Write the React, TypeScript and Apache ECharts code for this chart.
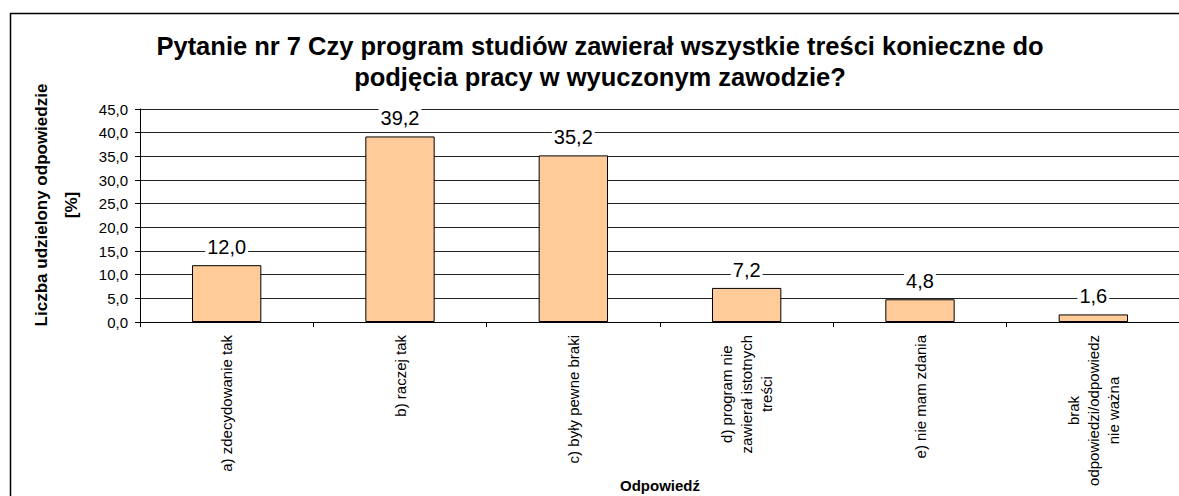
import React, { useEffect, useRef } from "react";
import * as echarts from "echarts";

const categories: string[][] = [
  ["a) zdecydowanie tak"],
  ["b) raczej tak"],
  ["c) były pewne braki"],
  ["d) program nie", "zawierał istotnych", "treści"],
  ["e) nie mam zdania"],
  ["brak", "odpowiedzi/odpowiedz", "nie ważna"],
];
const values: number[] = [12.0, 39.2, 35.2, 7.2, 4.8, 1.6];
const titleLines: string[] = [
  "Pytanie nr 7 Czy program studiów zawierał wszystkie treści konieczne do",
  "podjęcia pracy w wyuczonym zawodzie?",
];
const yAxisTitle = "Liczba udzielony odpowiedzie\n[%]";
const xAxisTitle = "Odpowiedź";

const fmt = (v: number) => v.toFixed(1).replace(".", ",");
const FONT = "Arial, 'Liberation Sans', sans-serif";

export default function App() {
  const ref = useRef<HTMLDivElement>(null);
  useEffect(() => {
    if (!ref.current) return;
    const chart = echarts.init(ref.current, null, { renderer: "svg" });
    chart.setOption({
      animation: false,
      backgroundColor: "#fff",
      textStyle: { fontFamily: FONT, color: "#000" },
      graphic: [
        {
          type: "rect",
          shape: { x: 10.5, y: 13.5, width: 1250, height: 600 },
          style: { fill: "none", stroke: "#000", lineWidth: 1.5 },
          silent: true,
        },
        ...titleLines.map((t, i) => ({
          type: "text",
          x: 600,
          y: 46 + i * 31,
          style: {
            text: t,
            align: "center",
            verticalAlign: "middle",
            fontFamily: FONT,
            fontWeight: "bold",
            fontSize: 25.5,
            fill: "#000",
          },
        })),
        {
          type: "text",
          x: 56,
          y: 205,
          rotation: Math.PI / 2,
          style: {
            text: yAxisTitle,
            align: "center",
            verticalAlign: "middle",
            fontFamily: FONT,
            fontWeight: "bold",
            fontSize: 17,
            lineHeight: 30,
            fill: "#000",
          },
        },
      ],
      grid: {
        left: 140,
        right: -1,
        top: 109,
        bottom: 174,
        containLabel: false,
        outerBoundsMode: "none",
      },
      xAxis: {
        type: "category",
        data: categories.map((c) => c.join("\n")),
        name: xAxisTitle,
        nameLocation: "middle",
        nameGap: 156,
        nameMoveOverlap: false,
        nameTextStyle: { fontFamily: FONT, fontWeight: "bold", fontSize: 15, color: "#000" },
        axisLine: { show: true, lineStyle: { color: "#000", width: 1 } },
        axisTick: { show: true, length: 5, lineStyle: { color: "#000" } },
        axisLabel: {
          interval: 0,
          rotate: 90,
          margin: 13,
          fontFamily: FONT,
          fontSize: 15,
          lineHeight: 20,
          color: "#000",
          formatter: (v: string) =>
            v
              .split("\n")
              .map((l) => `{c|${l}}`)
              .join("\n"),
          rich: {
            c: { align: "center", fontFamily: FONT, fontSize: 15, lineHeight: 20, color: "#000" },
          },
        },
      },
      yAxis: {
        type: "value",
        min: 0,
        max: 45,
        interval: 5,
        axisLine: { show: true, lineStyle: { color: "#000", width: 1 } },
        axisTick: { show: true, length: 5, lineStyle: { color: "#000" } },
        axisLabel: {
          margin: 12,
          fontFamily: FONT,
          fontSize: 15,
          color: "#000",
          formatter: (v: number) => fmt(v),
        },
        splitLine: { show: true, lineStyle: { color: "#222", width: 1 } },
      },
      series: [
        {
          type: "bar",
          data: values,
          barWidth: "40%",
          itemStyle: { color: "#FFCC99", borderColor: "#000", borderWidth: 1 },
          label: {
            show: true,
            position: "top",
            distance: 8,
            fontFamily: FONT,
            fontSize: 20,
            color: "#000",
            backgroundColor: "#fff",
            padding: [0, 2],
            formatter: (p: any) => fmt(p.value),
          },
        },
      ],
    });
    return () => chart.dispose();
  }, []);
  return (
    <div
      ref={ref}
      style={{ position: "fixed", left: 0, top: 0, width: 1179, height: 496 }}
    />
  );
}
